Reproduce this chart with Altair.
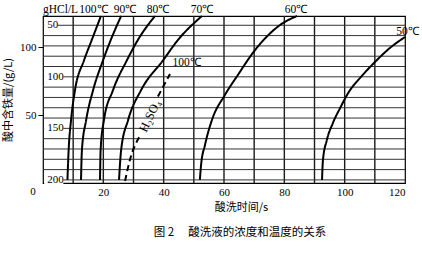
import altair as alt
import pandas as pd

# ---------------- data ----------------
# HCl concentration levels (g/L) at which the curves were read
h_levels = [41, 64, 84, 113, 142, 171, 200]
t_100 = [19.2, 16.2, 13.6, 10.6, 9.3, 8.5, 8.1]
t_90 = [25.9, 22.5, 19.9, 16.6, 14.3, 12.9, 12.6]
t_80 = [37.1, 31.5, 27.8, 23.2, 20.2, 19.1, 18.9]
t_70 = [52.7, 44.8, 39.8, 32.5, 28.2, 25.9, 25.2]

h_60 = [41, 49.7, 74, 98.2, 117.6, 141.9, 166.1, 185.5, 200]
t_60 = [84.2, 78.6, 70.3, 64.6, 60.3, 56.0, 53.7, 52.4, 52.0]

h_50 = [61.4, 72, 83.7, 101.1, 112.8, 130.2, 144.8, 161.3, 180.7, 200]
t_50 = [120.0, 115.0, 110.7, 105.1, 101.8, 98.5, 96.1, 94.1, 92.8, 92.5]

# H2SO4 100 degC dashed curve, interrupted by its label
h_h2so4_low = [158, 180.7, 201]
t_h2so4_low = [32.0, 28.8, 27.2]
h_h2so4_up = [97.3, 119]
t_h2so4_up = [42.1, 38.1]

x_grid = [10, 20, 30, 40, 50, 60, 70, 80, 90, 100, 110]
h_grid = [50, 60, 70, 80, 90, 100, 110, 120, 130, 140, 150, 160, 170, 180, 190, 200]
x_ticks = [20, 40, 60, 80, 100, 120]
origin_label = "0"
hcl_labels = [50, 100, 150, 200]
iron_ticks = [50, 100]

ann_text = ["gHCl/L", "100℃", "90℃", "80℃", "70℃", "60℃", "50℃", "100℃"]
ann_t = [0.0, 16.7, 27.2, 38.1, 52.7, 83.9, 120.8, 47.6]
ann_h = [35.0, 35.0, 35.0, 35.0, 35.0, 35.0, 56.5, 86.6]
ann_align = ["left", "center", "center", "center", "center", "center", "center", "center"]

h2so4_label = "H₂SO₄"
h2so4_t = 35.4
h2so4_h = 138.0

x_title = "酸洗时间/s"
y_title = "酸中含铁量/(g/L)"
caption = "图 2\u2003 酸洗液的浓度和温度的关系"

# ---------------- tables ----------------
rows = []
for name, ts, hs, kind in [
    ("100", t_100, h_levels, "HCl"),
    ("90", t_90, h_levels, "HCl"),
    ("80", t_80, h_levels, "HCl"),
    ("70", t_70, h_levels, "HCl"),
    ("60", t_60, h_60, "HCl"),
    ("50", t_50, h_50, "HCl"),
    ("H2SO4a", t_h2so4_low, h_h2so4_low, "H2SO4"),
    ("H2SO4b", t_h2so4_up, h_h2so4_up, "H2SO4"),
]:
    for t, h in zip(ts, hs):
        rows.append({"curve": name, "t": t, "h": h, "kind": kind})
curves_df = pd.DataFrame(rows)

SERIF = "Liberation Serif"
CJK = "Noto Sans CJK SC"

xs = alt.Scale(domain=[0, 120], nice=False, zero=False)
ys = alt.Scale(domain=[41, 203], reverse=True, nice=False, zero=False)

x_axis = alt.Axis(
    values=x_ticks, ticks=False, domain=False, grid=False,
    labelFont=SERIF, labelFontSize=11, labelColor="black", labelPadding=3,
    title=x_title, titleFont=CJK, titleFontSize=11, titleFontWeight="normal",
    titleColor="black", titlePadding=4, titleX=198,
)


def X(field):
    return alt.X(field, scale=xs, axis=x_axis)


def Y(field):
    return alt.Y(field, scale=ys, axis=None)


vgrid = alt.Chart(pd.DataFrame({"t": x_grid})).mark_rule(
    color="#1a1a1a", strokeWidth=1.4
).encode(x=X("t:Q"))

hgrid = alt.Chart(pd.DataFrame({"h": h_grid})).mark_rule(
    color="#333333", strokeWidth=1
).encode(y=Y("h:Q"))

lab_df = pd.DataFrame({"h": hcl_labels, "txt": [str(v) for v in hcl_labels]})
lab_df["t0"] = 0.4
lab_df["t1"] = lab_df["txt"].str.len() * 1.85 + 1.2
lab_df["h0"] = lab_df["h"] - 4.5
lab_df["h1"] = lab_df["h"] + 4.5

lab_bg = alt.Chart(lab_df).mark_rect(color="white").encode(
    x=X("t0:Q"), x2="t1:Q", y=Y("h0:Q"), y2="h1:Q",
)
lab_txt = alt.Chart(lab_df).mark_text(
    font=SERIF, fontSize=11, align="left", baseline="middle", color="black", dx=3
).encode(x=X("t0:Q"), y=Y("h:Q"), text="txt:N")

lines = alt.Chart(curves_df).mark_line(
    color="black", strokeWidth=2, interpolate="monotone"
).encode(
    x=X("t:Q"),
    y=Y("h:Q"),
    detail="curve:N",
    strokeDash=alt.StrokeDash(
        "kind:N",
        scale=alt.Scale(domain=["HCl", "H2SO4"], range=[[1, 0], [6, 4]]),
        legend=None,
    ),
)

ann_df = pd.DataFrame({"txt": ann_text, "t": ann_t, "h": ann_h, "al": ann_align})
ann_left = alt.Chart(ann_df[ann_df["al"] == "left"]).mark_text(
    font=SERIF, fontSize=11.5, align="left", baseline="middle", color="black"
).encode(x=X("t:Q"), y=Y("h:Q"), text="txt:N")
ann_center = alt.Chart(ann_df[ann_df["al"] == "center"]).mark_text(
    font=SERIF, fontSize=11.5, align="center", baseline="middle", color="black"
).encode(x=X("t:Q"), y=Y("h:Q"), text="txt:N")

h2 = alt.Chart(pd.DataFrame({"txt": [h2so4_label], "t": [h2so4_t], "h": [h2so4_h]})).mark_text(
    font=SERIF, fontSize=12.5, align="center", baseline="middle", color="black", angle=295
).encode(x=X("t:Q"), y=Y("h:Q"), text="txt:N")

origin = alt.Chart(pd.DataFrame({"txt": [origin_label], "t": [0], "h": [203]})).mark_text(
    font=SERIF, fontSize=11, align="center", baseline="top", color="black", dx=-10, dy=3
).encode(x=X("t:Q"), y=Y("h:Q"), text="txt:N")

hcl_layer = alt.layer(vgrid, hgrid, lab_bg, lab_txt, lines, ann_left, ann_center, h2, origin)

iron = alt.Chart(pd.DataFrame({"fe": iron_ticks})).mark_point(opacity=0).encode(
    y=alt.Y(
        "fe:Q",
        scale=alt.Scale(domain=[0, 122.8], nice=False, zero=True),
        axis=alt.Axis(
            orient="left", values=iron_ticks, grid=False, domain=False,
            ticks=True, tickSize=5, tickColor="black", tickWidth=1,
            labelFont=SERIF, labelFontSize=11, labelColor="black", labelPadding=2,
            title=y_title, titleFont=CJK, titleFontSize=11, titleFontWeight="normal",
            titleColor="black", titlePadding=6,
        ),
    ),
)

chart = alt.layer(hcl_layer, iron).resolve_scale(y="independent").properties(
    width=362,
    height=167,
    autosize=alt.AutoSizeParams(type="none"),
    padding={"left": 43, "top": 16, "right": 17, "bottom": 75},
    background="white",
    title=alt.TitleParams(
        text=caption, orient="bottom", anchor="middle", font=CJK, fontSize=11.5,
        fontWeight="normal", color="black", offset=15, dx=16,
    ),
).configure_view(stroke="black", strokeWidth=1.2)

chart.save("out.html", embed_options={"renderer": "svg", "actions": False})
